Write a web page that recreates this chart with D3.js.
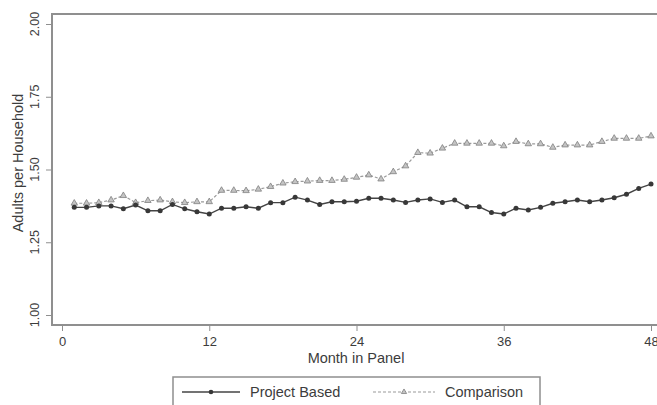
<!DOCTYPE html>
<html>
<head>
<meta charset="utf-8">
<script src="https://cdn.jsdelivr.net/npm/d3@7"></script>
<style>
  body { margin: 0; background: #fff; }
  svg { display: block; font-family: "Liberation Sans", Arial, sans-serif; }
</style>
</head>
<body>
<div id="chart"></div>
<script>
const months = d3.range(1, 49);
const projectBased = [
  1.370, 1.370, 1.375, 1.375, 1.365, 1.378, 1.358, 1.358, 1.380, 1.365, 1.355, 1.347,
  1.367, 1.367, 1.372, 1.367, 1.386, 1.386, 1.405, 1.395, 1.380, 1.389, 1.389, 1.391,
  1.401, 1.401, 1.395, 1.387, 1.395, 1.399, 1.387, 1.395, 1.372, 1.372, 1.352, 1.347,
  1.367, 1.361, 1.370, 1.384, 1.389, 1.395, 1.389, 1.395, 1.403, 1.415, 1.435, 1.450
];
const comparison = [
  1.384, 1.384, 1.386, 1.395, 1.410, 1.386, 1.393, 1.395, 1.389, 1.386, 1.389, 1.389,
  1.428, 1.428, 1.427, 1.432, 1.441, 1.453, 1.458, 1.460, 1.462, 1.462, 1.466, 1.473,
  1.481, 1.467, 1.492, 1.512, 1.558, 1.556, 1.573, 1.590, 1.590, 1.590, 1.590, 1.581,
  1.596, 1.588, 1.588, 1.576, 1.584, 1.584, 1.584, 1.596, 1.607, 1.607, 1.607, 1.615
];
const xTicks = [0, 12, 24, 36, 48];
const yTicks = [1.00, 1.25, 1.50, 1.75, 2.00];
const seriesNames = ['Project Based', 'Comparison'];

const width = 657;
const height = 405;
const frame = { left: 52, top: 14, right: 662, bottom: 325 };
const textColor = '#3c3c3c';
const axisColor = '#8f8f8f';

const svg = d3.select('#chart').append('svg')
    .attr('width', width)
    .attr('height', height);

const x = d3.scaleLinear().domain([0, 48]).range([62, 651]);
const y = d3.scaleLinear().domain([1, 2]).range([315, 24]);

// plot frame
svg.append('rect')
    .attr('x', frame.left)
    .attr('y', frame.top)
    .attr('width', frame.right - frame.left)
    .attr('height', frame.bottom - frame.top)
    .attr('fill', 'none')
    .attr('stroke', axisColor)
    .attr('stroke-width', 2);

// y axis
const yAxis = svg.append('g')
    .attr('transform', `translate(${frame.left - 1},0)`)
    .call(d3.axisLeft(y).tickValues(yTicks).tickSize(5).tickFormat(''));
yAxis.select('.domain').remove();
yAxis.selectAll('line').attr('stroke', axisColor);

svg.selectAll('.ylab')
    .data(yTicks)
    .join('text')
    .attr('class', 'ylab')
    .attr('transform', d => `translate(39,${y(d)}) rotate(-90)`)
    .attr('text-anchor', 'middle')
    .attr('font-size', 12.5)
    .attr('fill', textColor)
    .text(d => d3.format('.2f')(d));

svg.append('text')
    .attr('transform', `translate(23,163) rotate(-90)`)
    .attr('text-anchor', 'middle')
    .attr('font-size', 14.5)
    .attr('fill', textColor)
    .text('Adults per Household');

// x axis
const xAxis = svg.append('g')
    .attr('transform', `translate(0,${frame.bottom + 1})`)
    .call(d3.axisBottom(x).tickValues(xTicks).tickSize(5).tickPadding(6));
xAxis.select('.domain').remove();
xAxis.selectAll('line').attr('stroke', axisColor);
xAxis.selectAll('text')
    .attr('font-size', 13)
    .attr('fill', textColor)
    .style('font-family', '"Liberation Sans", Arial, sans-serif');

svg.append('text')
    .attr('x', 356)
    .attr('y', 363)
    .attr('text-anchor', 'middle')
    .attr('font-size', 14.5)
    .attr('fill', textColor)
    .text('Month in Panel');

// lines
const line = d3.line().x((d, i) => x(months[i])).y(d => y(d));

svg.append('path')
    .datum(comparison)
    .attr('d', line)
    .attr('fill', 'none')
    .attr('stroke', '#9a9a9a')
    .attr('stroke-width', 1.2)
    .attr('stroke-dasharray', '3,2');

svg.append('path')
    .datum(projectBased)
    .attr('d', line)
    .attr('fill', 'none')
    .attr('stroke', '#444')
    .attr('stroke-width', 1.4);

const tri = d3.symbol().type(d3.symbolTriangle).size(18);

svg.selectAll('.tri')
    .data(comparison)
    .join('path')
    .attr('class', 'tri')
    .attr('d', tri)
    .attr('transform', (d, i) => `translate(${x(months[i])},${y(d)})`)
    .attr('fill', '#c4c4c4')
    .attr('stroke', '#808080')
    .attr('stroke-width', 0.8);

svg.selectAll('.dot')
    .data(projectBased)
    .join('circle')
    .attr('class', 'dot')
    .attr('cx', (d, i) => x(months[i]))
    .attr('cy', d => y(d))
    .attr('r', 2.5)
    .attr('fill', '#383838');

// legend
const legend = svg.append('g');
legend.append('rect')
    .attr('x', 173)
    .attr('y', 377)
    .attr('width', 367)
    .attr('height', 32)
    .attr('fill', '#fff')
    .attr('stroke', axisColor)
    .attr('stroke-width', 1.5);

legend.append('line')
    .attr('x1', 182).attr('x2', 240).attr('y1', 392).attr('y2', 392)
    .attr('stroke', '#444').attr('stroke-width', 1.4);
legend.append('circle')
    .attr('cx', 211).attr('cy', 392).attr('r', 2.3).attr('fill', '#383838');
legend.append('text')
    .attr('x', 250).attr('y', 397)
    .attr('font-size', 14.5).attr('fill', textColor)
    .text(seriesNames[0]);

legend.append('line')
    .attr('x1', 373).attr('x2', 435).attr('y1', 392).attr('y2', 392)
    .attr('stroke', '#9a9a9a').attr('stroke-width', 1.2).attr('stroke-dasharray', '3,2');
legend.append('path')
    .attr('d', d3.symbol().type(d3.symbolTriangle).size(12))
    .attr('transform', 'translate(404,392)')
    .attr('fill', '#c4c4c4').attr('stroke', '#808080').attr('stroke-width', 0.8);
legend.append('text')
    .attr('x', 445).attr('y', 397)
    .attr('font-size', 14.5).attr('fill', textColor)
    .text(seriesNames[1]);
</script>
</body>
</html>
